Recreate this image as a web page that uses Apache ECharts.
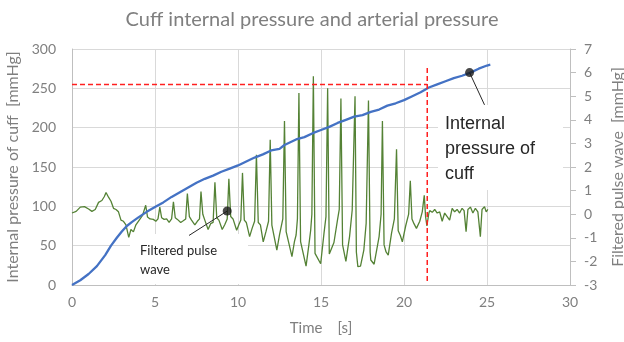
<!DOCTYPE html>
<html>
<head>
<meta charset="utf-8">
<script src="https://cdn.jsdelivr.net/npm/echarts@6/dist/echarts.min.js"></script>
<style>
  html, body { margin: 0; background: #fff; }
  #chart { width: 624px; height: 342px; }
</style>
</head>
<body>
<div id="chart"></div>
<script>
// cuff internal pressure [s, mmHg] (left axis)
const cuffPressure = [
  [0, 0], [0.5, 6], [1.0, 14], [1.5, 24], [2.0, 38], [2.35, 50], [2.7, 60], [3.0, 68],
  [3.3, 75], [3.6, 80], [4.0, 86], [4.5, 93], [5.08, 100], [5.5, 105], [6.0, 112],
  [6.5, 118], [7.0, 124], [7.5, 130], [8.0, 135], [8.5, 139], [9.0, 144], [9.5, 148],
  [10.0, 152], [10.5, 157], [11.0, 162], [11.5, 166], [12.0, 171], [12.5, 173],
  [12.8, 178], [13.5, 185], [14.0, 188], [14.5, 193], [15.0, 197], [15.5, 201],
  [16.0, 206], [16.5, 210], [17.0, 214], [17.5, 216], [18.0, 220], [18.5, 223],
  [19.0, 228], [19.5, 231], [20.0, 235], [20.5, 240], [21.0, 245], [21.5, 251],
  [22.0, 255], [22.5, 259], [23.0, 263], [23.5, 266], [24.0, 270], [24.5, 275],
  [25.0, 279], [25.2, 280]
];

// filtered pulse wave [s, mmHg] (right axis)
const pulseWave = [
  [0.0, 0.05], [0.25, 0.12], [0.5, 0.3], [0.75, 0.32], [1.0, 0.22], [1.2, 0.12],
  [1.4, 0.2], [1.6, 0.5], [1.8, 0.58], [1.95, 0.75], [2.05, 0.92], [2.2, 0.72],
  [2.35, 0.55], [2.5, 0.25], [2.65, 0.2], [2.8, 0.1], [2.95, -0.25], [3.1, -0.3],
  [3.25, -0.45], [3.42, -0.98], [3.55, -0.65], [3.7, -0.75], [3.85, -0.45],
  [4.05, -0.25], [4.25, -0.05], [4.44, 0.38], [4.55, -0.12], [4.7, -0.2],
  [4.9, -0.22], [5.05, -0.3], [5.18, -0.2], [5.29, 0.3], [5.4, -0.15], [5.55, -0.22],
  [5.7, -0.2], [5.85, -0.35], [6.0, -0.2], [6.11, 0.52], [6.22, -0.15], [6.35, -0.22],
  [6.55, -0.35], [6.7, -0.28], [6.85, -0.2], [6.95, 0.88], [7.07, -0.1], [7.2, -0.25],
  [7.4, -0.45], [7.55, -0.3], [7.68, -0.2], [7.77, 0.96], [7.88, 0.0], [8.0, -0.25],
  [8.2, -0.65], [8.35, -0.4], [8.5, -0.35], [8.61, 1.35], [8.72, -0.15], [8.85, -0.25],
  [9.05, -0.65], [9.2, -0.45], [9.35, -0.2], [9.45, 1.5], [9.56, -0.1], [9.7, -0.2],
  [9.92, -0.68], [10.05, -0.45], [10.17, -0.25], [10.27, 1.75], [10.38, -0.25],
  [10.5, -0.35], [10.7, -0.95], [10.85, -0.6], [11.0, -0.3], [11.11, 2.52],
  [11.22, -0.35], [11.35, -0.45], [11.52, -1.17], [11.68, -0.75], [11.84, -0.3],
  [11.94, 3.15], [12.04, -0.46], [12.15, -0.5], [12.34, -1.52], [12.5, -0.88],
  [12.62, -0.8], [12.7, -0.2], [12.8, 3.95], [12.9, -0.74], [13.02, -0.8],
  [13.25, -1.8], [13.4, -1.16], [13.5, -0.88], [13.58, -0.2], [13.67, 5.13],
  [13.77, -1.16], [13.88, -1.2], [14.1, -2.2], [14.27, -1.3], [14.38, -0.67],
  [14.45, 0.0], [14.54, 5.85], [14.64, -1.66], [14.75, -1.7], [14.98, -2.1],
  [15.18, -0.81], [15.3, -0.1], [15.4, 5.34], [15.5, -1.69], [15.62, -1.75],
  [15.78, -1.2], [15.98, -0.3], [16.1, 0.2], [16.2, 4.9], [16.3, -1.3], [16.5, -2.0],
  [16.72, -0.95], [16.88, 0.18], [17.05, 5.0], [17.13, -1.6], [17.22, -2.22],
  [17.38, -2.2], [17.58, -1.52], [17.72, -0.39], [17.86, 4.82], [17.96, -1.6],
  [18.0, -1.94], [18.2, -2.12], [18.5, -0.95], [18.62, 0.0], [18.7, 3.95],
  [18.8, -1.3], [18.92, -1.6], [19.05, -1.73], [19.25, -0.8], [19.42, -0.2],
  [19.55, 2.75], [19.65, -0.7], [19.78, -0.9], [19.9, -1.17], [20.1, -0.5],
  [20.28, 0.0], [20.38, 1.42], [20.48, -0.2], [20.6, -0.4], [20.75, -0.6],
  [20.95, -0.3], [21.1, 0.1], [21.22, 0.8], [21.3, -0.1], [21.38, -0.5], [21.5, 0.05],
  [21.55, 0.15], [21.7, 0.08], [21.85, 0.2], [22.0, 0.05], [22.15, 0.1], [22.3, -0.3],
  [22.45, 0.05], [22.6, -0.1], [22.75, -0.25], [22.9, 0.25], [23.05, 0.1], [23.2, 0.2],
  [23.35, 0.05], [23.5, 0.25], [23.62, 0.15], [23.74, -0.74], [23.85, 0.2], [24.0, 0.3],
  [24.15, 0.05], [24.3, 0.25], [24.45, 0.1], [24.6, -0.95], [24.7, 0.2], [24.85, 0.32],
  [24.95, 0.1], [25.05, 0.2]
];

// red dashed reference lines (left axis units)
const refLevel = [[0, 255], [21.4, 255]];
const refTime = [[21.4, 5], [21.4, 277]];

// annotation markers and leader lines (left axis units)
const cuffMarker = [[23.95, 270]];
const cuffLeader = [[23.95, 270], [24.85, 229]];
const pulseMarker = [[9.35, 94]];
const pulseLeader = [[9.35, 94], [7.05, 63]];

const textGray = "#7f7f7f";
const gridGray = "#d9d9d9";
const fontFamily = "Lato";

const chart = echarts.init(document.getElementById("chart"), null, { renderer: "canvas" });

const option = {
  animation: false,
  textStyle: { fontFamily: fontFamily },
  title: {
    text: "Cuff internal pressure and arterial pressure",
    left: "center",
    top: 5,
    textStyle: { fontSize: 20, fontWeight: "normal", color: textGray, fontFamily: fontFamily }
  },
  grid: { left: 72, right: 54, top: 49, bottom: 57, outerBoundsMode: "none", containLabel: false },
  xAxis: {
    type: "value",
    min: 0,
    max: 30,
    interval: 5,
    name: "Time　[s]",
    nameLocation: "middle",
    nameGap: 36,
    nameTextStyle: { fontSize: 15, color: textGray },
    axisLine: { lineStyle: { color: "#bfbfbf" } },
    axisTick: { show: false },
    axisLabel: { fontSize: 14, color: textGray, margin: 10 },
    splitLine: { lineStyle: { color: gridGray } }
  },
  yAxis: [
    {
      type: "value",
      min: 0,
      max: 300,
      interval: 50,
      name: "Internal pressure of cuff  [mmHg]",
      nameLocation: "middle",
      nameRotate: 90,
      nameGap: 36,
      nameTextStyle: { fontSize: 16, color: textGray },
      axisLine: { show: true, lineStyle: { color: "#bfbfbf" } },
      axisTick: { show: false },
      axisLabel: { fontSize: 14, color: textGray, margin: 16 },
      splitLine: { lineStyle: { color: gridGray } }
    },
    {
      type: "value",
      min: -3,
      max: 7,
      interval: 1,
      position: "right",
      name: "Filtered pulse wave  [mmHg]",
      nameLocation: "middle",
      nameRotate: 90,
      nameGap: 40,
      nameTextStyle: { fontSize: 16, color: textGray },
      axisLine: { show: true, lineStyle: { color: "#bfbfbf" } },
      axisTick: { show: true, length: 6, lineStyle: { color: "#bfbfbf" } },
      axisLabel: { fontSize: 14, color: textGray, margin: 14 },
      splitLine: { show: false }
    }
  ],
  graphic: [
    {
      type: "rect",
      z: 1,
      shape: { x: 130, y: 234, width: 118, height: 50 },
      style: { fill: "#fff" }
    },
    {
      type: "text",
      z: 1,
      left: 140,
      top: 241,
      style: {
        text: "Filtered pulse\nwave",
        fontSize: 13,
        lineHeight: 19,
        fill: "#262626",
        fontFamily: fontFamily
      }
    },
    {
      type: "rect",
      z: 1,
      shape: { x: 438, y: 105, width: 125, height: 85 },
      style: { fill: "#fff" }
    },
    {
      type: "text",
      z: 1,
      left: 445,
      top: 112,
      style: {
        text: "Internal\npressure of\ncuff",
        fontSize: 18,
        lineHeight: 25,
        fill: "#262626",
        fontFamily: "Liberation Sans"
      }
    }
  ],
  series: [
    {
      name: "Filtered pulse wave",
      type: "line",
      yAxisIndex: 1,
      data: pulseWave,
      showSymbol: false,
      lineStyle: { color: "#548235", width: 1.3 },
      z: 3
    },
    {
      name: "Internal pressure of cuff",
      type: "line",
      yAxisIndex: 0,
      data: cuffPressure,
      showSymbol: false,
      lineStyle: { color: "#4472c4", width: 2.3 },
      z: 4
    },
    {
      type: "line",
      data: refLevel,
      showSymbol: false,
      lineStyle: { color: "#ff2020", width: 1.5, type: [5, 3] },
      z: 5
    },
    {
      type: "line",
      data: refTime,
      showSymbol: false,
      lineStyle: { color: "#ff2020", width: 1.5, type: [5, 3] },
      z: 5
    },
    {
      type: "line",
      data: cuffLeader,
      showSymbol: false,
      lineStyle: { color: "#262626", width: 1 },
      z: 6
    },
    {
      type: "line",
      data: pulseLeader,
      showSymbol: false,
      lineStyle: { color: "#262626", width: 1 },
      z: 6
    },
    {
      type: "scatter",
      data: cuffMarker.concat(pulseMarker),
      symbolSize: 9,
      itemStyle: { color: "#1a1a1a" },
      z: 7
    }
  ]
};

chart.setOption(option);
</script>
</body>
</html>
